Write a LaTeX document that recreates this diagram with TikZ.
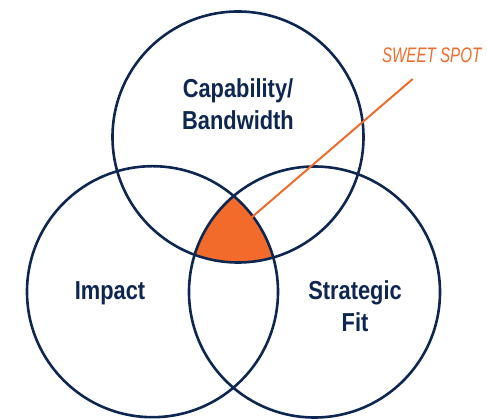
\documentclass[tikz,border=0pt]{standalone}
\usepackage{fontspec}
\usepackage{xcolor}
\usepackage{tikz}
\setmainfont{Liberation Sans}
\newfontfamily\vennfont[FakeStretch=0.84]{Liberation Sans}
\newfontfamily\spotfont[FakeStretch=0.72]{Liberation Sans}
\definecolor{navy}{HTML}{0D2752}
\definecolor{spotorange}{HTML}{F26B2A}
\tikzstyle{venn}=[draw=navy, line width=2.6pt]
\tikzstyle{vennlabel}=[inner sep=0pt, text=navy, align=center, text depth=0pt,
font={\vennfont\bfseries\fontsize{26}{32}\selectfont}]
\tikzstyle{spotlabel}=[inner sep=0pt, text=spotorange,
font={\spotfont\itshape\fontsize{21}{25}\selectfont}]

\begin{document}
\begin{tikzpicture}[x=1pt,y=1pt]
\useasboundingbox (0,0) rectangle (487,419);
\coordinate (ctop) at (238,282);
\coordinate (cleft) at (152.5,127.3);
\coordinate (cright) at (314.5,127);

% sweet spot
\begin{scope}
  \clip (ctop) circle[radius=125.5];
  \clip (cleft) circle[radius=125.5];
  \fill[spotorange] (cright) circle[radius=125.5];
\end{scope}

\draw[venn] (ctop) circle[radius=125.5];
\draw[venn] (cleft) circle[radius=125.5];
\draw[venn] (cright) circle[radius=125.5];

\node[vennlabel, anchor=south] (capability) at (238,289) {Capability/\\Bandwidth};
\node[vennlabel, anchor=base] (impact) at (110,119) {Impact};
\node[vennlabel, anchor=south] (strategic) at (355,87.3) {Strategic\\Fit};

\node[spotlabel, anchor=base] (sweet) at (431.7,356.5) {SWEET SPOT};
\coordinate (lead) at (412.7,340);
\coordinate (spot) at (251.7,201.7);
\draw[spotorange, line width=2pt] (lead) -- (spot);
\end{tikzpicture}
\end{document}
